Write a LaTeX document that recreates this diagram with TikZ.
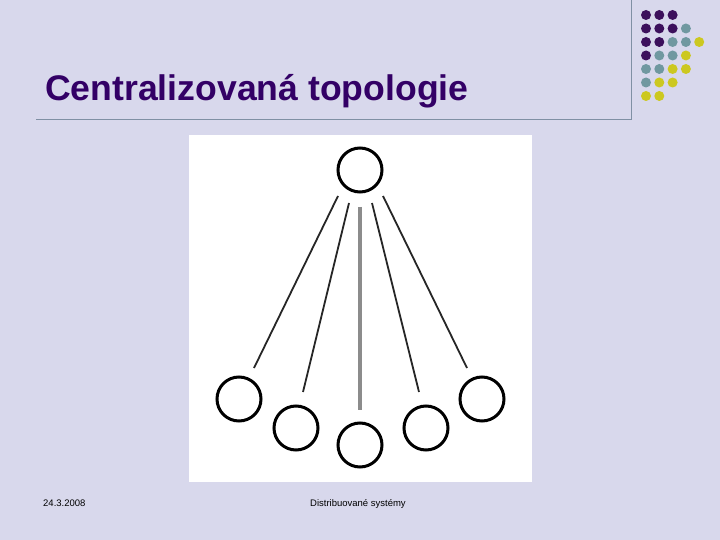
\documentclass[tikz,border=0pt]{standalone}
\usepackage{fontspec}
\setmainfont{Liberation Sans}
\definecolor{bg}{RGB}{216,216,236}
\definecolor{titlec}{RGB}{51,0,102}
\definecolor{rulec}{RGB}{128,144,164}
\definecolor{dpurple}{RGB}{60,16,92}
\definecolor{dteal}{RGB}{112,152,160}
\definecolor{dyellow}{RGB}{204,200,32}
\begin{document}
\begin{tikzpicture}[x=1pt,y=-1pt,
  dot/.style={circle,inner sep=0pt,minimum size=10pt},
  pnode/.style={circle,draw=black,line width=3pt,inner sep=0pt,minimum size=44pt,fill=white},
  link/.style={line width=1.8pt,black!85},
  midlink/.style={line width=3.2pt,black!45}]
\useasboundingbox (0,0) rectangle (720,540);
\fill[bg] (0,0) rectangle (720,540);
% rules
\coordinate (rtop) at (631,0);
\coordinate (rcorner) at (631,120);
\coordinate (rleft) at (36,120);
\draw[rulec,line width=1pt] (rtop) -- (rcorner) -- (rleft);
% dots
\foreach \x/\y/\c [count=\i] in {
 0/0/dpurple,1/0/dpurple,2/0/dpurple,
 0/1/dpurple,1/1/dpurple,2/1/dpurple,3/1/dteal,
 0/2/dpurple,1/2/dpurple,2/2/dteal,3/2/dteal,4/2/dyellow,
 0/3/dpurple,1/3/dteal,2/3/dteal,3/3/dyellow,
 0/4/dteal,1/4/dteal,2/4/dyellow,3/4/dyellow,
 0/5/dteal,1/5/dyellow,2/5/dyellow,
 0/6/dyellow,1/6/dyellow}
 \node[dot,fill=\c] (d\i) at ({646+13.3*\x},{15+13.5*\y}) {};
% title
\node[anchor=base west,inner sep=0pt,text=titlec,font=\fontsize{35.6}{40}\selectfont\bfseries] (title) at (45,101) {Centralizovaná topologie};
% picture box
\node[fill=white,inner sep=0pt,minimum width=343pt,minimum height=347pt,anchor=north west] (box) at (189,135) {};
% nodes
\node[pnode] (top) at (360,170) {};
\node[pnode] (n1) at (239,399) {};
\node[pnode] (n2) at (296,428) {};
\node[pnode] (n3) at (360,445) {};
\node[pnode] (n4) at (426,428) {};
\node[pnode] (n5) at (482,399) {};
% connector ends
\coordinate (a1) at (338,196); \coordinate (b1) at (254,368);
\coordinate (a2) at (349,203); \coordinate (b2) at (303,392);
\coordinate (a3) at (360,207); \coordinate (b3) at (360,410);
\coordinate (a4) at (372,203); \coordinate (b4) at (419,392);
\coordinate (a5) at (383,196); \coordinate (b5) at (467,368);
\draw[link] (a1) -- (b1);
\draw[link] (a2) -- (b2);
\draw[midlink] (a3) -- (b3);
\draw[link] (a4) -- (b4);
\draw[link] (a5) -- (b5);
% footer
\node[anchor=base west,inner sep=0pt,font=\fontsize{9.5}{11}\selectfont] (date) at (43,506) {24.3.2008};
\node[anchor=base west,inner sep=0pt,font=\fontsize{9.5}{11}\selectfont] (foot) at (310,506) {Distribuované systémy};
\end{tikzpicture}
\end{document}
